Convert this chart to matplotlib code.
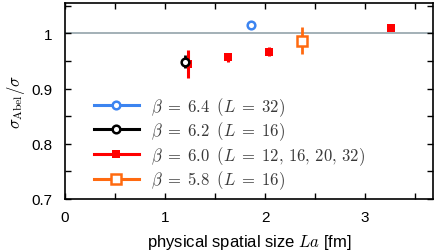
import matplotlib.pyplot as plt
from matplotlib.lines import Line2D
from matplotlib.ticker import MultipleLocator

plt.rcParams['mathtext.fontset'] = 'cm'
plt.rcParams['font.family'] = ['Liberation Sans', 'DejaVu Sans']

# beta = 6.4 (L=32)
x64 = [1.86]
y64 = [1.015]
e64 = [0.006]
# beta = 6.2 (L=16)
x62 = [1.20]
y62 = [0.949]
e62 = [0.012]
# beta = 6.0 (L=12,16,20,32)
x60 = [1.23, 1.63, 2.04, 3.26]
y60 = [0.944, 0.957, 0.967, 1.009]
e60 = [0.025, 0.008, 0.008, 0.004]
# beta = 5.8 (L=16)
x58 = [2.37]
y58 = [0.987]
e58 = [0.024]

blue = '#3c84f0'
red = '#ff0000'
orange = '#ff6a10'

fig = plt.figure(figsize=(4.37, 2.53), dpi=100)
ax = fig.add_axes([0.149, 0.21, 0.842, 0.774])

ax.axhline(1.0, color='#93a3aa', lw=1.2, zorder=1)

ax.errorbar(x60, y60, yerr=e60, fmt='s', color=red, ms=6, mew=0, elinewidth=2.2, capsize=0, zorder=3)
ax.errorbar(x58, y58, yerr=e58, fmt='s', color=orange, mfc='white', ms=7, mew=1.8, elinewidth=2, capsize=0, zorder=3)
ax.errorbar(x64, y64, yerr=e64, fmt='o', color=blue, mfc='white', ms=5.5, mew=1.8, elinewidth=2, capsize=0, zorder=4)
ax.errorbar(x62, y62, yerr=e62, fmt='o', color='black', mfc='white', ms=5.5, mew=1.8, elinewidth=2, capsize=0, zorder=4)

handles = [
    Line2D([], [], color=blue, lw=2.2, marker='o', mfc='white', ms=5.5, mew=1.8),
    Line2D([], [], color='black', lw=2.2, marker='o', mfc='white', ms=5.5, mew=1.8),
    Line2D([], [], color=red, lw=2.2, marker='s', ms=6, mew=0),
    Line2D([], [], color=orange, lw=2.2, marker='s', mfc='white', ms=7, mew=1.8),
]
labels = [r'$\beta\;=\;6.4\;\;(L\;=\;32)$', r'$\beta\;=\;6.2\;\;(L\;=\;16)$',
          r'$\beta\;=\;6.0\;\;(L\;=\;12,\,16,\,20,\,32)$', r'$\beta\;=\;5.8\;\;(L\;=\;16)$']
leg = ax.legend(handles, labels, loc='upper left', bbox_to_anchor=(0.06, 0.565),
                frameon=False, fontsize=12, handlelength=2.7, labelspacing=0.11,
                handletextpad=0.7, borderaxespad=0)
for t in leg.get_texts():
    t.set_color('#3a3a3a')

ax.set_xlim(0, 3.68)
ax.set_ylim(0.7, 1.055)
ax.xaxis.set_major_locator(MultipleLocator(1))
ax.xaxis.set_minor_locator(MultipleLocator(0.5))
ax.yaxis.set_minor_locator(MultipleLocator(0.05))
ax.set_yticks([0.7, 0.8, 0.9, 1.0])
ax.set_yticklabels(['0.7', '0.8', '0.9', '1'])
ax.tick_params(which='both', direction='in', top=True, right=True, length=4, width=1, labelsize=11)
ax.tick_params(axis='x', pad=8)
ax.tick_params(axis='y', pad=9)
for s in ax.spines.values():
    s.set_linewidth(1.2)

ax.set_xlabel(r'physical spatial size $La$ [fm]', fontsize=12, labelpad=6)
ax.set_ylabel(r'$\sigma_{\rm Abel}/\sigma$', fontsize=12, labelpad=3)

fig.savefig('out.png', dpi=100)
